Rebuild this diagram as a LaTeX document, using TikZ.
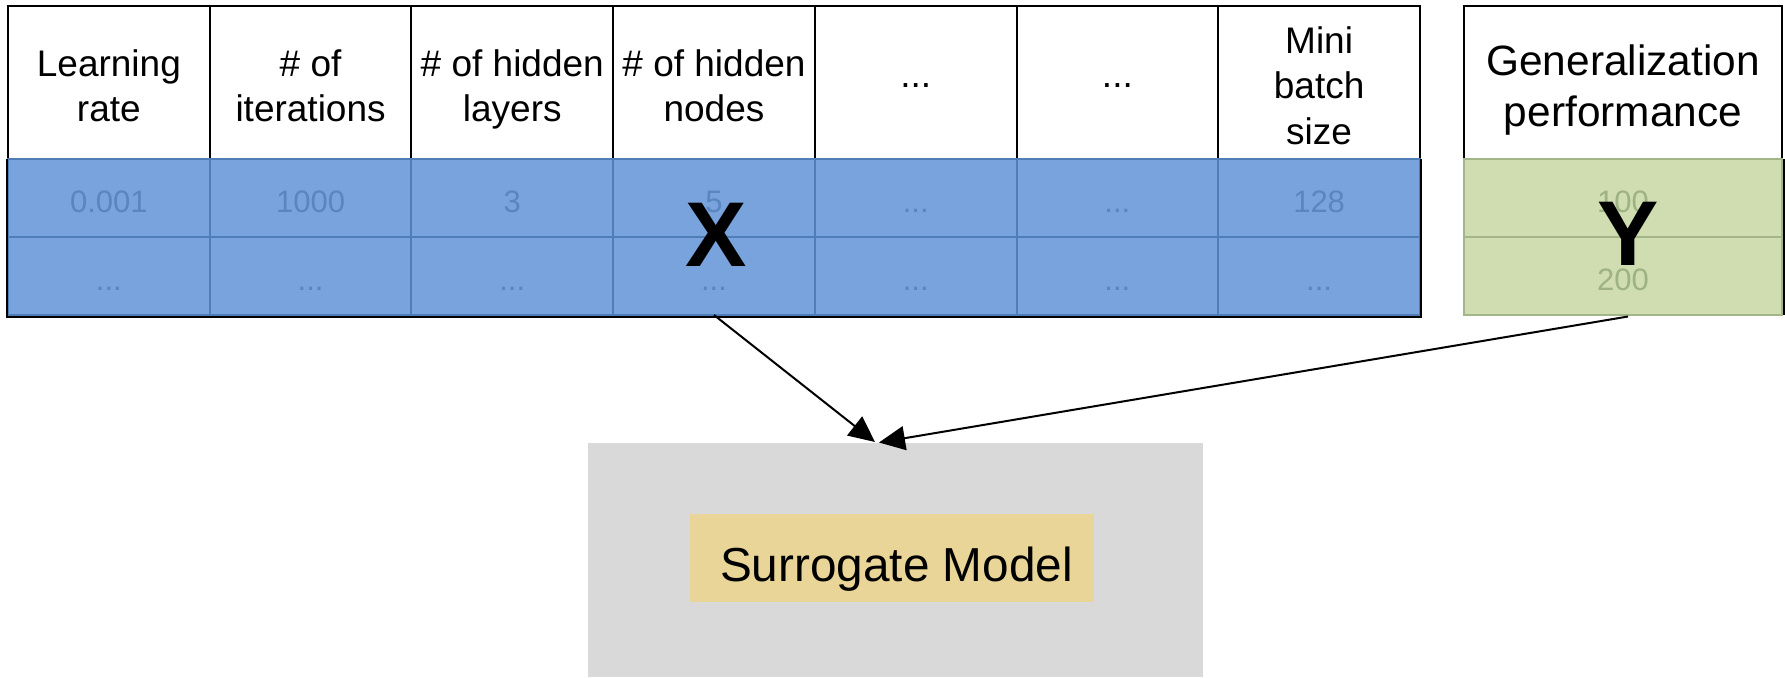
\documentclass[tikz,border=0pt]{standalone}
\usepackage{fontspec}
\setmainfont{Liberation Sans}
\usetikzlibrary{arrows.meta,calc}

\definecolor{xfill}{HTML}{78A3DC}
\definecolor{xline}{HTML}{4F7DB8}
\definecolor{xtext}{HTML}{5A86C0}
\definecolor{yfill}{HTML}{CFDDB0}
\definecolor{yline}{HTML}{A3B68A}
\definecolor{ytext}{HTML}{9EB284}
\definecolor{modelbg}{HTML}{D9D9D9}
\definecolor{modelfg}{HTML}{E9D597}

\def\etcdots{...}

\begin{document}
\begin{tikzpicture}[x=0.5pt,y=-0.5pt,
  cell/.style={rectangle, anchor=north west, inner sep=0pt, outer sep=0pt,
    line width=1pt},
  head/.style={cell, draw=black, fill=white, minimum width=100.86pt,
    minimum height=76.5pt},
  headtext/.style={inner sep=0pt, align=center, font=\fontsize{18.5}{22.7}\selectfont},
  datatext/.style={text height=14.5pt, text depth=0pt,
    font=\fontsize{15.5}{18}\selectfont},
  xcell/.style={cell, draw=xline, fill=xfill, text=xtext, minimum width=100.86pt,
    minimum height=39pt, datatext},
  yhead/.style={cell, draw=black, fill=white, minimum width=159pt,
    minimum height=76.5pt},
  yheadtext/.style={inner sep=0pt, align=center, font=\fontsize{21.2}{25.5}\selectfont},
  ycell/.style={cell, draw=yline, fill=yfill, text=ytext, minimum width=159pt,
    minimum height=39pt, datatext},
  biglabel/.style={inner sep=0pt, font=\fontsize{46}{46}\bfseries\selectfont},
  feed/.style={line width=1pt, -{Triangle[length=13pt,width=12pt]}}
]
\useasboundingbox (0,0) rectangle (1785,677);

% hyperparameter table (inputs)
\foreach \i/\h/\dy in {1/{Learning\\rate}/3, 2/{\# of\\iterations}/3,
    3/{\# of hidden\\layers}/7, 4/{\# of hidden\\nodes}/3, 5/\etcdots/3,
    6/\etcdots/3, 7/{Mini\\batch\\size}/3} {
  \node[head] (h\i) at ({8+(\i-1)*201.71}, 6) {};
  \node[headtext] (ht\i) at ($(h\i.center)+(0,\dy)$) {\h};
}
\foreach \i/\v in {1/0.001, 2/1000, 3/3, 4/5, 5/\etcdots, 6/\etcdots, 7/128} {
  \node[xcell] (a\i) at ({8+(\i-1)*201.71}, 159) {\v};
  \node[xcell] (b\i) at ({8+(\i-1)*201.71}, 237) {\etcdots};
}
\draw[black, line width=1pt] ($(a1.north west)+(-1.5,0)$) |- ($(b7.south east)+(1.5,1.5)$) -- ($(a7.north east)+(1.5,0)$);

% performance table (outputs)
\node[yhead] (hy) at (1464, 6) {};
\node[yheadtext] (hyt) at ($(hy.center)+(0,8)$) {Generalization\\performance};
\node[ycell] (ay) at (1464, 159) {100};
\node[ycell] (by) at (1464, 237) {200};
\draw[black, line width=1pt] ($(ay.north east)+(1.5,0)$) -- ($(by.south east)+(1.5,0)$);

% big labels
\node[biglabel] (xlbl) at (716, 235) {X};
\node[biglabel] (ylbl) at (1628, 234) {Y};

% surrogate model block
\node[cell, fill=modelbg, minimum width=307.5pt, minimum height=117pt] (model) at (588, 443) {};
\node[fill=modelfg, inner sep=0pt, minimum width=202pt, minimum height=44pt] (surr) at (892, 558) {};
\node[inner sep=0pt, text height=17.2pt, text depth=0pt,
  font=\fontsize{23.85}{28}\selectfont] (surrtext) at ($(surr.center)+(4.5,6)$) {Surrogate Model};

% connectors
\coordinate (xin) at ($(model.north)+(-20.5,-1)$);
\coordinate (yin) at ($(model.north)+(-16.5,-0.5)$);
\coordinate (yout) at ($(by.south)+(5,1.5)$);
\draw[feed] (b4.south) -- (xin);
\draw[feed] (yout) -- (yin);
\end{tikzpicture}
\end{document}
